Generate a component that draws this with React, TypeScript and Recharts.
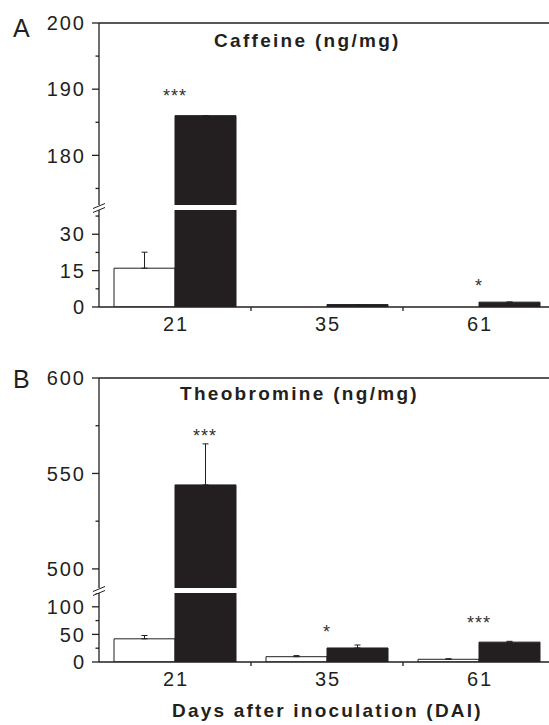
import React from 'react';
import { ComposedChart, Bar, XAxis, YAxis, ErrorBar, Scatter, ReferenceLine } from 'recharts';

const days = ['21', '35', '61'];

const caffeineControl = [16, 0, 0];
const caffeineControlErr = [6.6, 0, 0];
const caffeineInoculated = [186, 1, 2];
const caffeineInoculatedErr = [0, 0, 0];
const caffeineStars = ['***', '', '*'];
const caffeineStarLevel = [189.6, null, 10.4];

const theobromineControl = [42, 9.6, 4.9];
const theobromineControlErr = [6, 2, 1];
const theobromineInoculated = [544, 25.4, 36];
const theobromineInoculatedErr = [21.5, 5.4, 1.5];
const theobromineStars = ['***', '*', '***'];
const theobromineStarLevel = [571.7, 62.5, 77.9];

const caffeineUpperDomain = [172.5, 200];
const caffeineLowerDomain = [0, 40];
const caffeineUpperTicks = [175, 180, 185, 190, 195, 200];
const caffeineLowerTicks = [0, 7.5, 15, 22.5, 30, 37.5];
const caffeineTickLabels = [0, 15, 30, 180, 190, 200];

const theobromineUpperDomain = [490, 600];
const theobromineLowerDomain = [0, 125];
const theobromineUpperTicks = [500, 525, 550, 575, 600];
const theobromineLowerTicks = [0, 25, 50, 75, 100, 125];
const theobromineTickLabels = [0, 50, 100, 500, 550, 600];

// annotation nudges (px) for the significance stars
const caffeineStarNudge = [0, 0, 0];
const theobromineStarNudge = [30, 0, 0];

const FONT = '"Liberation Sans", Arial, Helvetica, sans-serif';
const INK = '#231f20';
const CHART_W = 556;
const AXIS_W = 99;
const RIGHT_M = 1;

function buildRows(
  ctrl: number[], ctrlErr: number[], inoc: number[], inocErr: number[],
  stars: string[], starLevel: (number | null)[], nudge: number[], domain: number[]
) {
  const [lo, hi] = domain;
  const inRange = (v: number) => v >= lo && v <= hi;
  return days.map((d, i) => {
    const lvl = starLevel[i];
    return {
      day: d,
      ctrl: ctrl[i] >= lo ? ctrl[i] : null,
      ctrlErr: [0, inRange(ctrl[i]) ? ctrlErr[i] : 0],
      inoc: inoc[i] >= lo ? inoc[i] : null,
      inocErr: [0, inRange(inoc[i]) ? inocErr[i] : 0],
      star: lvl != null && inRange(lvl) ? stars[i] : '',
      starY: lvl != null && inRange(lvl) ? lvl : lo,
      nudge: nudge[i],
    };
  });
}

const makeYTick = (labels: number[]) => (props: any) => {
  const { x, y, payload } = props;
  const v = payload.value;
  const major = labels.includes(v);
  return (
    <g>
      <line x1={x - (major ? 7 : 3.5)} x2={x} y1={y} y2={y} stroke={INK} strokeWidth={1.3} />
      {major && (
        <text x={x - 13} y={y} dy="0.36em" textAnchor="end" fontSize={20} fill={INK}
          fontFamily={FONT} letterSpacing={2}>
          {v}
        </text>
      )}
    </g>
  );
};

const XTick = (props: any) => {
  const { x, y, payload } = props;
  const catHalf = (CHART_W - AXIS_W - RIGHT_M) / 3 / 2;
  const half = payload && payload.offset > 0 ? payload.offset : catHalf;
  return (
    <g>
      <line x1={x + half} x2={x + half} y1={y} y2={y + 4} stroke={INK} strokeWidth={1.3} />
      <text x={x + 1} y={y + 24} textAnchor="middle" fontSize={20} fill={INK}
        fontFamily={FONT} letterSpacing={2}>
        {payload.value}
      </text>
    </g>
  );
};

const StarShape = (props: any) => {
  const { cx, cy, payload } = props;
  if (!payload || !payload.star || !Number.isFinite(cx) || !Number.isFinite(cy)) return <g />;
  return (
    <text x={cx + (payload.nudge || 0)} y={cy + 10} textAnchor="middle" fontSize={18}
      fill="#333" fontFamily={FONT} letterSpacing={1}>
      {payload.star}
    </text>
  );
};

type SegProps = {
  rows: any[];
  domain: number[];
  ticks: number[];
  labels: number[];
  plotHeight: number;
  top: number;
  upper: boolean;
};

function Segment({ rows, domain, ticks, labels, plotHeight, top, upper }: SegProps) {
  const marginTop = upper ? 13 : 0;
  const xAxisH = upper ? 0 : 40;
  const height = marginTop + plotHeight + xAxisH;
  return (
    <div style={{ position: 'absolute', left: 0, top: top - marginTop, width: CHART_W, height }}>
      <ComposedChart
        width={CHART_W}
        height={height}
        data={rows}
        margin={{ top: marginTop, right: RIGHT_M, bottom: 0, left: 0 }}
        barCategoryGap={15}
        barGap={0}
      >
        {upper ? (
          <XAxis dataKey="day" hide />
        ) : (
          <XAxis
            dataKey="day"
            height={xAxisH}
            axisLine={{ stroke: INK, strokeWidth: 1.3 }}
            tickLine={false}
            tickSize={0}
            tickMargin={0}
            tick={<XTick />}
            interval={0}
          />
        )}
        <YAxis
          type="number"
          width={AXIS_W}
          domain={domain}
          ticks={ticks}
          allowDataOverflow
          interval={0}
          axisLine={{ stroke: INK, strokeWidth: 1.3 }}
          tickLine={false}
          tickSize={0}
          tickMargin={0}
          tick={makeYTick(labels)}
        />
        {upper && <ReferenceLine y={domain[1]} stroke={INK} strokeWidth={1.3} />}
        <Bar dataKey="ctrl" fill="#ffffff" stroke={INK} strokeWidth={1} isAnimationActive={false}>
          <ErrorBar dataKey="ctrlErr" width={3} stroke={INK} strokeWidth={1} direction="y" />
        </Bar>
        <Bar dataKey="inoc" fill={INK} stroke={INK} strokeWidth={1} isAnimationActive={false}>
          <ErrorBar dataKey="inocErr" width={3} stroke={INK} strokeWidth={1} direction="y" />
        </Bar>
        <Scatter dataKey="starY" shape={StarShape} isAnimationActive={false} />
      </ComposedChart>
    </div>
  );
}

function BreakMark({ y }: { y: number }) {
  return (
    <g stroke={INK} strokeWidth={1}>
      <line x1={93} y1={y + 1} x2={105} y2={y - 4} />
      <line x1={93} y1={y + 5} x2={105} y2={y} />
    </g>
  );
}

export default function App() {
  const cafUpper = buildRows(caffeineControl, caffeineControlErr, caffeineInoculated, caffeineInoculatedErr,
    caffeineStars, caffeineStarLevel, caffeineStarNudge, caffeineUpperDomain);
  const cafLower = buildRows(caffeineControl, caffeineControlErr, caffeineInoculated, caffeineInoculatedErr,
    caffeineStars, caffeineStarLevel, caffeineStarNudge, caffeineLowerDomain);
  const theoUpper = buildRows(theobromineControl, theobromineControlErr, theobromineInoculated, theobromineInoculatedErr,
    theobromineStars, theobromineStarLevel, theobromineStarNudge, theobromineUpperDomain);
  const theoLower = buildRows(theobromineControl, theobromineControlErr, theobromineInoculated, theobromineInoculatedErr,
    theobromineStars, theobromineStarLevel, theobromineStarNudge, theobromineLowerDomain);

  return (
    <div style={{ position: 'absolute', left: 0, top: 0, width: 549, height: 725, overflow: 'hidden', background: '#fff' }}>
      <Segment rows={cafUpper} domain={caffeineUpperDomain} ticks={caffeineUpperTicks}
        labels={caffeineTickLabels} plotHeight={182} top={23} upper />
      <Segment rows={cafLower} domain={caffeineLowerDomain} ticks={caffeineLowerTicks}
        labels={caffeineTickLabels} plotHeight={97} top={210} upper={false} />
      <Segment rows={theoUpper} domain={theobromineUpperDomain} ticks={theobromineUpperTicks}
        labels={theobromineTickLabels} plotHeight={210} top={378} upper />
      <Segment rows={theoLower} domain={theobromineLowerDomain} ticks={theobromineLowerTicks}
        labels={theobromineTickLabels} plotHeight={69} top={593} upper={false} />
      <svg width={549} height={725} style={{ position: 'absolute', left: 0, top: 0, pointerEvents: 'none' }}>
        <text x={13} y={37} fontSize={25} fill={INK} fontFamily={FONT}>A</text>
        <text x={13} y={388} fontSize={25} fill={INK} fontFamily={FONT}>B</text>
        <text x={214} y={47} fontSize={19} fontWeight="bold" fill={INK} fontFamily={FONT} letterSpacing={2.3}>
          Caffeine (ng/mg)
        </text>
        <text x={180} y={400} fontSize={19} fontWeight="bold" fill={INK} fontFamily={FONT} letterSpacing={2.3}>
          Theobromine (ng/mg)
        </text>
        <text x={172} y={717} fontSize={19} fontWeight="bold" fill={INK} fontFamily={FONT} letterSpacing={2.2}>
          Days after inoculation (DAI)
        </text>
        <BreakMark y={207.5} />
        <BreakMark y={590.5} />
      </svg>
    </div>
  );
}
